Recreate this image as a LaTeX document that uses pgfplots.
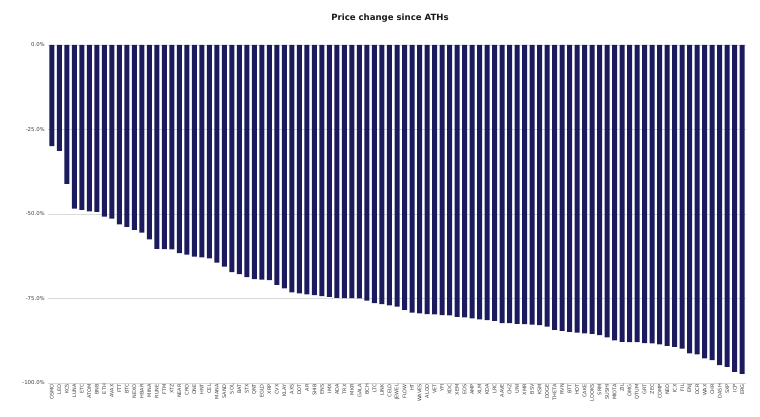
\documentclass[border=0pt]{standalone}
\usepackage{pgfplots}
\usepackage{pgfplotstable}
\usepackage{fontspec}
\setmainfont{DejaVu Sans}
\pgfplotsset{compat=1.18}
\definecolor{barblue}{RGB}{27,27,94}
\definecolor{gridgray}{RGB}{217,217,217}
\definecolor{lblgray}{RGB}{64,64,64}
\pgfplotstableread{
x y
1 -29.9
2 -31.3
3 -41.1
4 -48.4
5 -48.8
6 -49.2
7 -49.4
8 -50.8
9 -51.4
10 -53.1
11 -53.8
12 -54.7
13 -55.5
14 -57.5
15 -60.3
16 -60.4
17 -60.5
18 -61.6
19 -62.0
20 -62.6
21 -62.8
22 -63.1
23 -64.4
24 -65.6
25 -67.2
26 -67.8
27 -68.7
28 -69.3
29 -69.4
30 -69.6
31 -71.0
32 -72.0
33 -73.2
34 -73.5
35 -73.8
36 -74.0
37 -74.3
38 -74.5
39 -74.8
40 -74.9
41 -74.9
42 -75.0
43 -75.6
44 -76.4
45 -76.7
46 -77.0
47 -77.4
48 -78.4
49 -79.2
50 -79.4
51 -79.6
52 -79.7
53 -79.9
54 -80.0
55 -80.4
56 -80.6
57 -80.9
58 -81.2
59 -81.4
60 -81.6
61 -82.3
62 -82.3
63 -82.5
64 -82.6
65 -82.7
66 -82.9
67 -83.3
68 -84.3
69 -84.6
70 -84.9
71 -85.1
72 -85.3
73 -85.5
74 -85.8
75 -86.5
76 -87.4
77 -87.8
78 -87.9
79 -87.9
80 -88.2
81 -88.3
82 -88.6
83 -89.0
84 -89.3
85 -89.8
86 -91.2
87 -91.5
88 -92.7
89 -93.2
90 -94.7
91 -95.2
92 -96.7
93 -97.3
}\pricedata
\begin{document}
\begin{tikzpicture}
\useasboundingbox (0,0) rectangle (760bp,417bp);
\begin{axis}[
  at={(48bp,34bp)}, anchor=south west, scale only axis,
  width=698bp, height=338bp,
  ybar, bar width=5bp,
  xmin=0.5, xmax=93.5, ymin=-100, ymax=0,
  axis line style={draw=none},
  ytick={-100,-75,-50,-25,0},
  yticklabels={-100.0\%,-75.0\%,-50.0\%,-25.0\%,0.0\%},
  ymajorgrids, grid style={gridgray, line width=0.6bp},
  major tick length=0pt,
  xtick=data,
  xticklabels={OSMO,LEO,KCS,LUNA,ETC,ATOM,BNB,ETH,AVAX,FTT,BTC,NEXO,HBAR,MINA,RUNE,FTM,XTZ,NEAR,CRO,ONE,HNT,CEL,MANA,SAND,SOL,BAT,STX,QNT,EGLD,XRP,CVX,KLAY,AXS,DOT,AR,SHIB,ENS,IMX,ADA,TRX,MKR,GALA,BCH,LTC,LINK,CELO,JEWEL,FLOW,HT,WAVES,ALGO,VET,YFI,XDC,XEM,EOS,AMP,XLM,KDA,LRC,AAVE,CHZ,UNI,XMR,BSV,KSM,DOGE,THETA,RVN,BTT,HOT,CAKE,LOOKS,SRM,SUSHI,MIOTA,ZIL,OMG,QTUM,GRT,ZEC,COMP,NEO,ICX,FIL,ENJ,DCR,WAX,CHR,DASH,SXP,ICP,ERG},
  xticklabel style={rotate=90, anchor=east, font=\fontsize{5}{6}\selectfont, text=lblgray, inner sep=1bp},
  yticklabel style={font=\fontsize{5.4}{6}\selectfont, text=lblgray, inner sep=1bp, xshift=-2bp},
]
\addplot[fill=barblue, draw=none] table[x=x,y=y]{\pricedata};
\end{axis}
\node[font=\bfseries\fontsize{8.6}{10}\selectfont, text=black!90] at (390bp,399bp) {Price change since ATHs};
\end{tikzpicture}
\end{document}
